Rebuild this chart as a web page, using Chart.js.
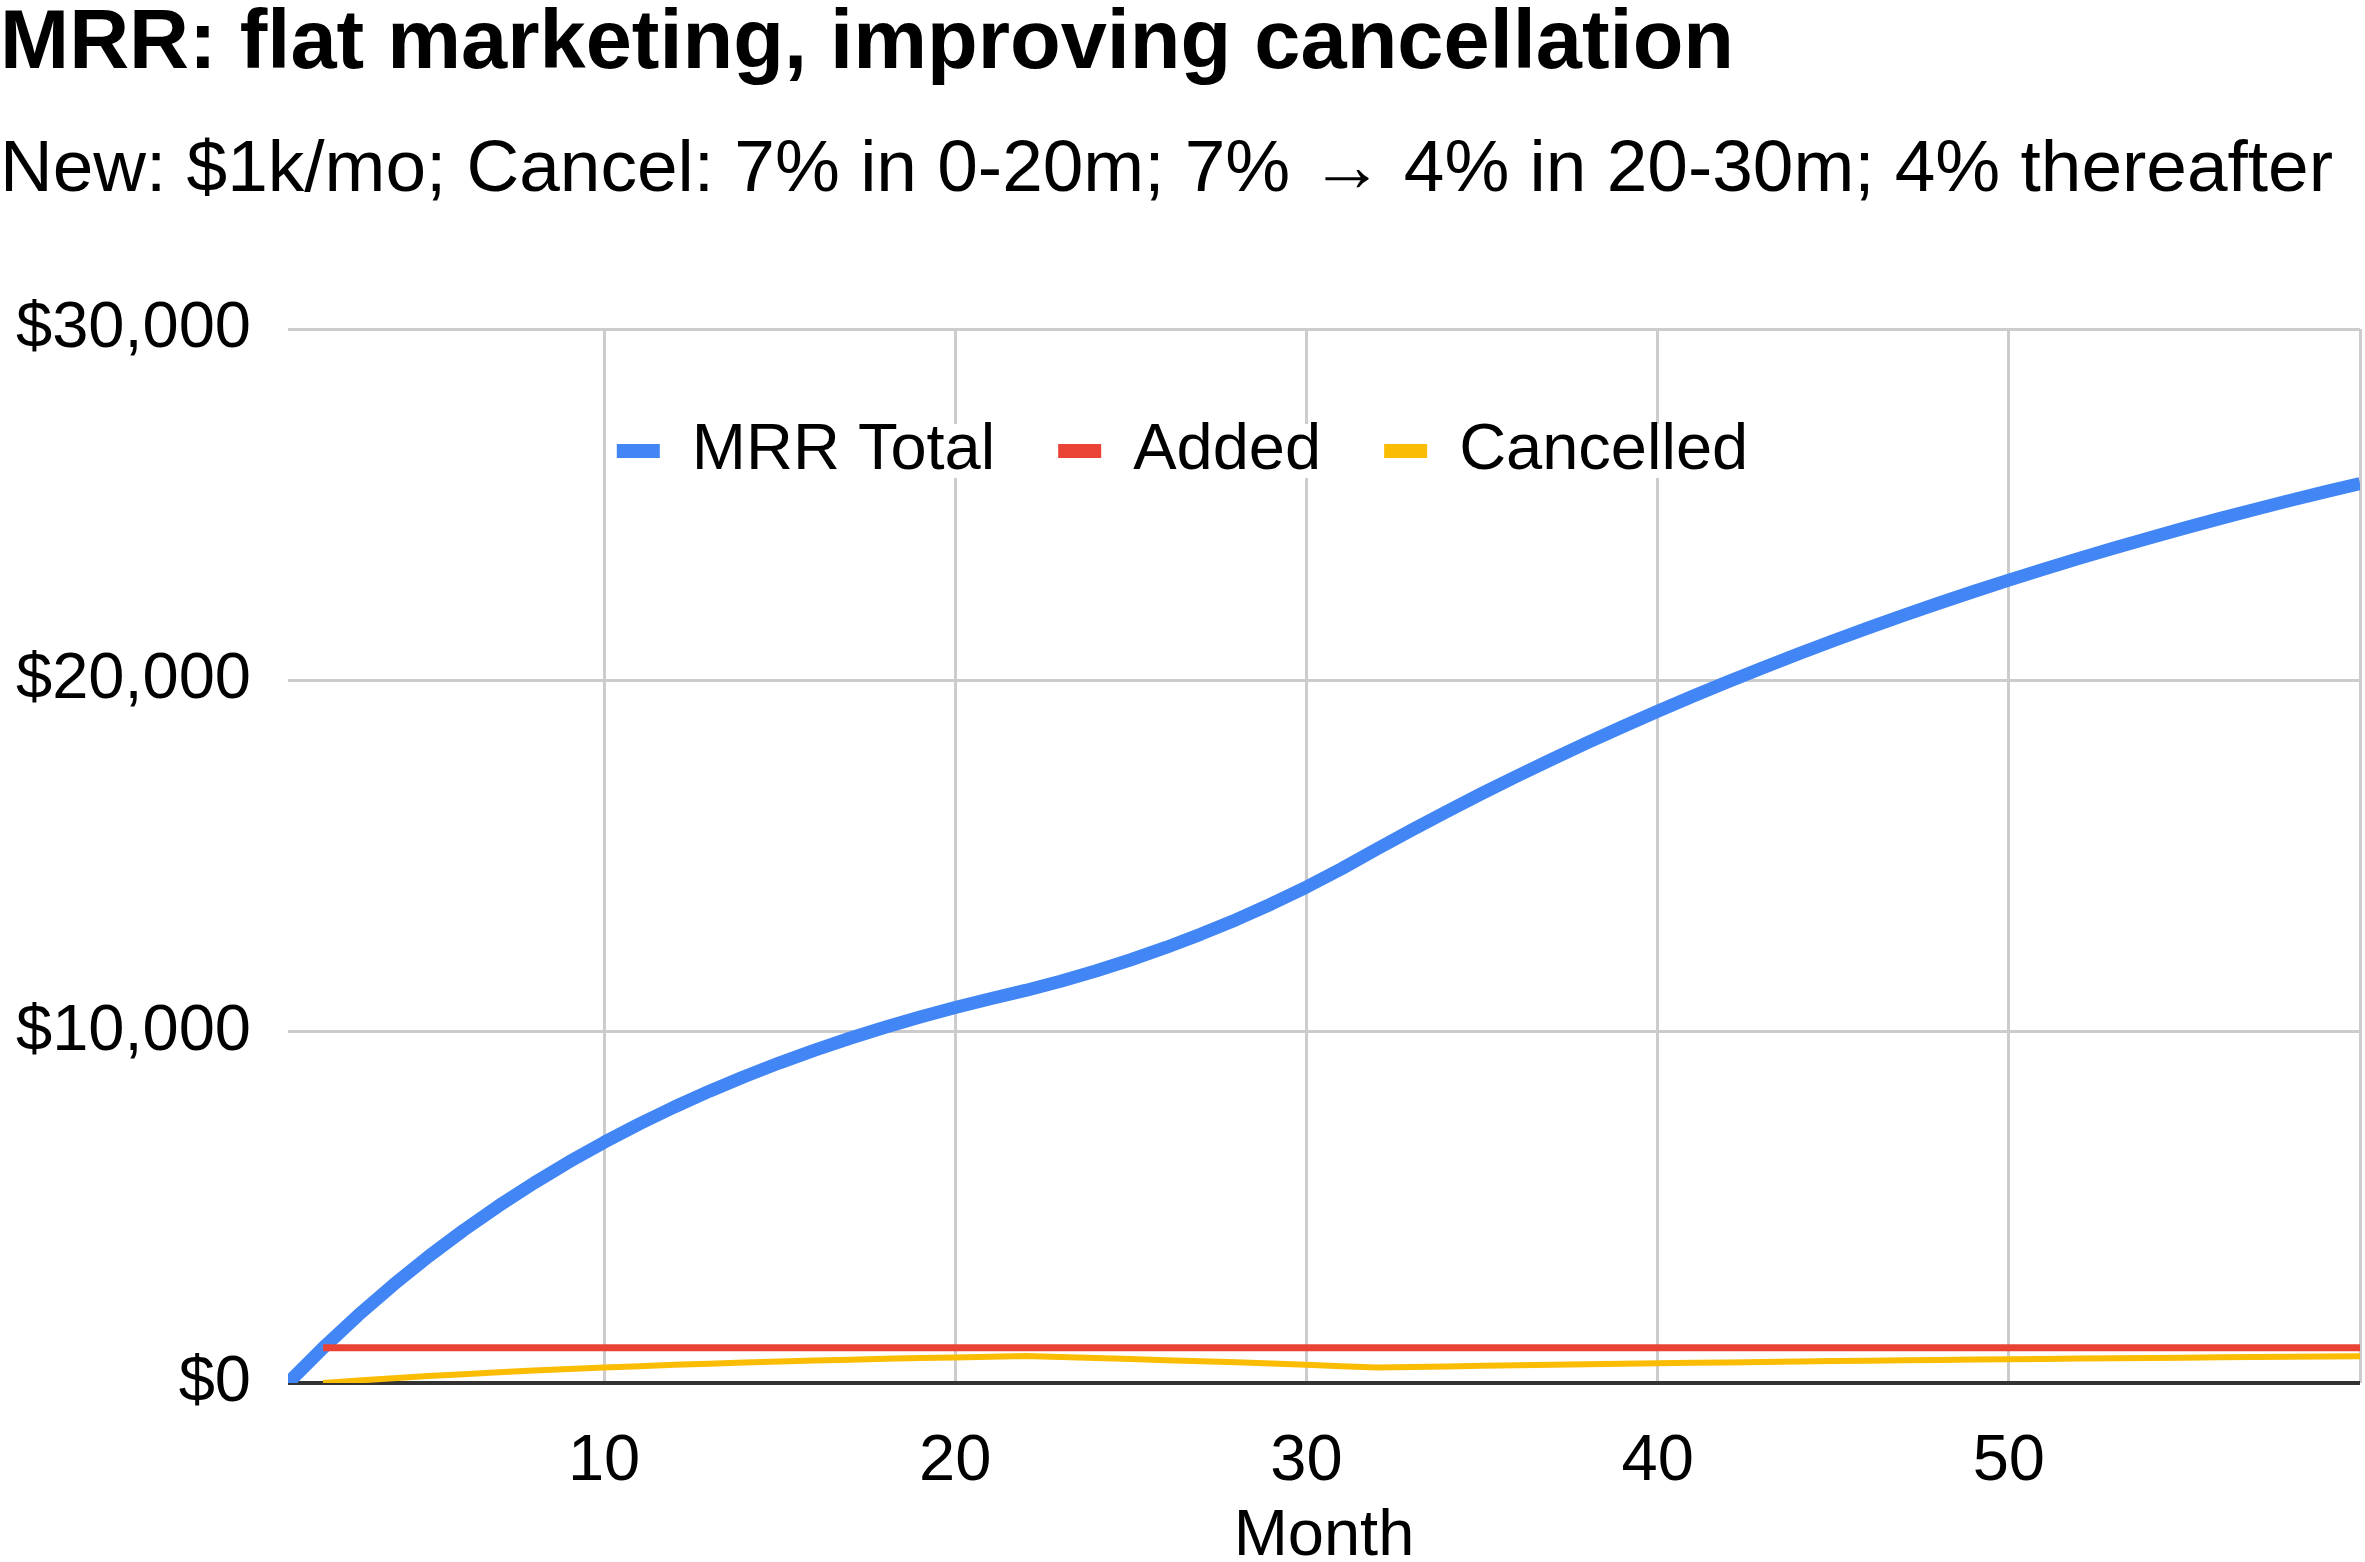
<!DOCTYPE html>
<html>
<head>
<meta charset="utf-8">
<script src="https://cdn.jsdelivr.net/npm/chart.js@4.4.0/dist/chart.umd.min.js"></script>
<style>
  html, body { margin: 0; padding: 0; background: #fff; }
  #wrap { width: 2365px; height: 1562px; }
</style>
</head>
<body>
<div id="wrap"><canvas id="mrr"></canvas></div>
<script>
const months = [
  1, 2, 3, 4, 5, 6, 7, 8, 9, 10,
  11, 12, 13, 14, 15, 16, 17, 18, 19, 20,
  21, 22, 23, 24, 25, 26, 27, 28, 29, 30,
  31, 32, 33, 34, 35, 36, 37, 38, 39, 40,
  41, 42, 43, 44, 45, 46, 47, 48, 49, 50,
  51, 52, 53, 54, 55, 56, 57, 58, 59, 60
]

const mrrTotal = [
  0, 1000, 1930, 2795, 3600, 4348, 5043, 5690, 6292, 6851,
  7372, 7856, 8306, 8724, 9114, 9476, 9812, 10126, 10417, 10688,
  10939, 11174, 11436, 11727, 12047, 12397, 12777, 13189, 13635, 14117,
  14637, 15198, 15742, 16270, 16782, 17278, 17760, 18227, 18680, 19120,
  19546, 19960, 20361, 20750, 21128, 21494, 21849, 22194, 22528, 22852,
  23166, 23471, 23767, 24054, 24333, 24603, 24865, 25119, 25365, 25604
]

const added = [
  null, 1000, 1000, 1000, 1000, 1000, 1000, 1000, 1000, 1000,
  1000, 1000, 1000, 1000, 1000, 1000, 1000, 1000, 1000, 1000,
  1000, 1000, 1000, 1000, 1000, 1000, 1000, 1000, 1000, 1000,
  1000, 1000, 1000, 1000, 1000, 1000, 1000, 1000, 1000, 1000,
  1000, 1000, 1000, 1000, 1000, 1000, 1000, 1000, 1000, 1000,
  1000, 1000, 1000, 1000, 1000, 1000, 1000, 1000, 1000, 1000
]

const cancelled = [
  null, 0, 70, 135, 196, 252, 304, 353, 398, 440,
  480, 516, 550, 581, 611, 638, 663, 687, 709, 729,
  748, 766, 738, 709, 680, 651, 620, 588, 554, 518,
  480, 439, 456, 472, 488, 503, 518, 533, 547, 560,
  574, 586, 599, 611, 623, 634, 645, 656, 666, 676,
  686, 695, 704, 713, 722, 730, 738, 746, 754, 761
]

const xTicks = [10, 20, 30, 40, 50, 60]
const yTicks = [0, 10000, 20000, 30000]

const FONT = '"Liberation Sans", Arial, sans-serif'

// the sheets export puts the legend inside the plot, so draw it ourselves
const innerLegend = {
  id: 'innerLegend',
  afterDraw(chart) {
    const ctx = chart.ctx
    const y = chart.chartArea.top + 122
    ctx.save()
    ctx.font = '65px ' + FONT
    ctx.textBaseline = 'middle'
    const items = chart.data.datasets.map(ds => ({
      label: ds.label,
      color: ds.borderColor,
      w: ctx.measureText(ds.label).width
    }))
    const sw = 43, gap = 32, sep = 63
    const total = items.reduce((a, it) => a + sw + gap + it.w, 0) + sep * (items.length - 1)
    let x = chart.width / 2 - total / 2
    items.forEach(it => {
      ctx.fillStyle = it.color
      ctx.fillRect(x, y - 7, sw, 14)
      x += sw + gap
      ctx.fillStyle = '#fff'
      ctx.fillRect(x - 2, y - 27, it.w + 4, 54)
      ctx.fillStyle = '#000'
      ctx.fillText(it.label, x, y)
      x += it.w + sep
    })
    ctx.restore()
  }
}

new Chart(document.getElementById('mrr'), {
  type: 'line',
  data: {
    labels: months,
    datasets: [
      { label: 'MRR Total', data: mrrTotal, borderColor: '#4285F4', borderWidth: 13, order: 3 },
      { label: 'Added', data: added, borderColor: '#EA4335', borderWidth: 7, order: 2 },
      { label: 'Cancelled', data: cancelled, borderColor: '#FBBC04', borderWidth: 6, order: 1 }
    ]
  },
  options: {
    responsive: true,
    maintainAspectRatio: false,
    animation: false,
    elements: {
      point: { radius: 0 },
      line: { tension: 0, borderJoinStyle: 'round' }
    },
    layout: { padding: { left: 0, right: 5, top: 0, bottom: 0 } },
    plugins: {
      legend: { display: false },
      tooltip: { enabled: false },
      title: {
        display: true,
        text: 'MRR: flat marketing, improving cancellation',
        align: 'start',
        color: '#000',
        font: { family: FONT, size: 83, weight: 'bold', lineHeight: 0.94 },
        padding: { top: 6, bottom: 0 }
      },
      subtitle: {
        display: true,
        text: 'New: $1k/mo; Cancel: 7% in 0-20m; 7% \u2192 4% in 20-30m; 4% thereafter',
        align: 'start',
        color: '#000',
        font: { family: FONT, size: 73, lineHeight: 1 },
        padding: { top: 50.5, bottom: 121.5 }
      }
    },
    scales: {
      x: {
        type: 'linear',
        min: 1,
        max: 60,
        afterBuildTicks: s => { s.ticks = xTicks.map(v => ({ value: v })) },
        afterFit: s => { s.paddingLeft = 0; s.paddingRight = 0; s.height = 179 },
        grid: { color: '#cccccc', lineWidth: 3, drawTicks: false },
        border: { display: false },
        ticks: {
          padding: 40,
          color: '#000',
          autoSkip: false,
          maxRotation: 0,
          font: { family: FONT, size: 65 },
          callback: v => v === 60 ? '' : String(v)
        },
        title: {
          display: true,
          text: 'Month',
          color: '#000',
          font: { family: FONT, size: 65, lineHeight: 0.77 },
          padding: { top: 17, bottom: 0 }
        }
      },
      y: {
        min: 0,
        max: 30000,
        afterBuildTicks: s => { s.ticks = yTicks.map(v => ({ value: v })) },
        afterFit: s => { s.width = 288 },
        grid: {
          color: c => c.tick && c.tick.value === 0 ? '#333333' : '#cccccc',
          lineWidth: c => c.tick && c.tick.value === 0 ? 4 : 3,
          drawTicks: false
        },
        border: { display: false },
        ticks: {
          padding: 37,
          color: '#000',
          font: { family: FONT, size: 65 },
          callback: v => '$' + v.toLocaleString('en-US')
        }
      }
    }
  },
  plugins: [innerLegend]
})
</script>
</body>
</html>
